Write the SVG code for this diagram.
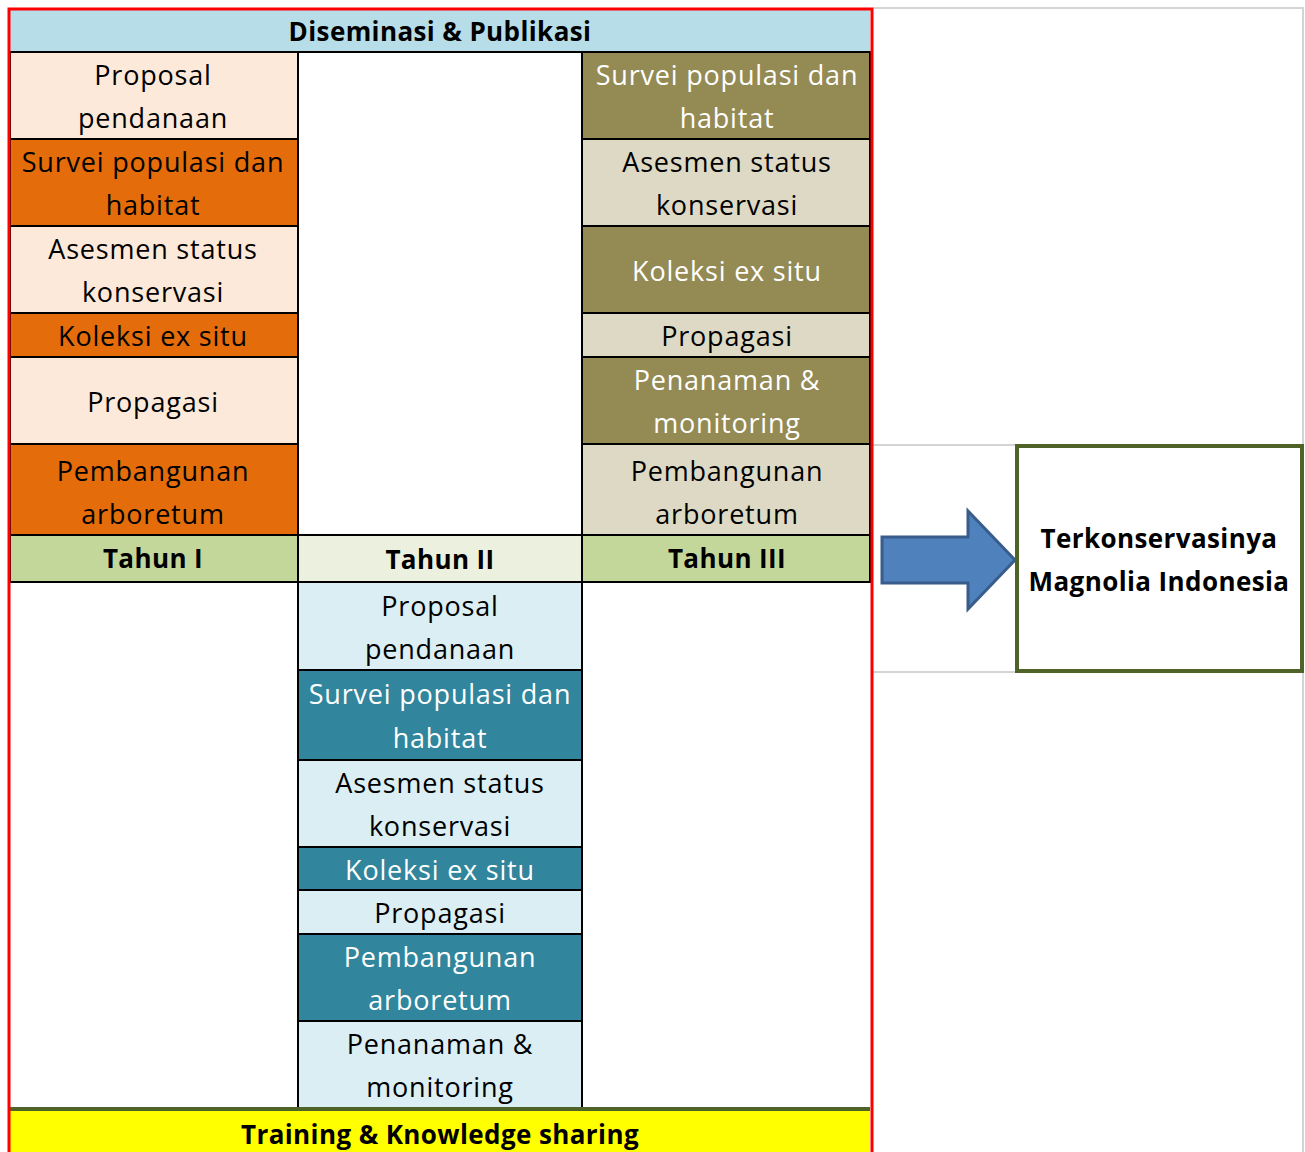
<svg xmlns="http://www.w3.org/2000/svg" width="1305" height="1152" viewBox="0 0 1305 1152">
<style>
.t{font-family:"Open Sans","Noto Sans","DejaVu Sans",sans-serif;font-size:27px;letter-spacing:0.8px;text-anchor:middle;fill:#000}
.w{fill:#fff}
.b{font-weight:bold;font-size:26px;letter-spacing:0.4px}
.c{stroke:#000;stroke-width:2}
.g{stroke:#D4D4D4;stroke-width:2;fill:none}
</style>
<rect width="1305" height="1152" fill="#fff"/>
<g id="grid">
<line class="g" x1="873" y1="8" x2="1304" y2="8"/>
<line class="g" x1="1303" y1="8" x2="1303" y2="1152"/>
<line class="g" x1="873" y1="445" x2="1016" y2="445"/>
<line class="g" x1="873" y1="672" x2="1304" y2="672"/>
</g>
<g id="header">
<rect x="10" y="10" width="860" height="42" fill="#B7DDE8"/>
<line x1="298" y1="52" x2="870" y2="52" stroke="#000" stroke-width="2"/>
<text class="t b" x="440" y="41">Diseminasi &amp; Publikasi</text>
</g>
<g id="year1">
<g id="y1-proposal"><rect class="c" x="10" y="52" width="288" height="87" fill="#FDE9D9"/><text class="t" x="153" y="85">Proposal</text><text class="t" x="153" y="128">pendanaan</text></g>
<g id="y1-survei"><rect class="c" x="10" y="139" width="288" height="87" fill="#E46C0A"/><text class="t" x="153" y="172">Survei populasi dan</text><text class="t" x="153" y="215">habitat</text></g>
<g id="y1-asesmen"><rect class="c" x="10" y="226" width="288" height="87" fill="#FDE9D9"/><text class="t" x="153" y="259">Asesmen status</text><text class="t" x="153" y="302">konservasi</text></g>
<g id="y1-koleksi"><rect class="c" x="10" y="313" width="288" height="44" fill="#E46C0A"/><text class="t" x="153" y="346">Koleksi ex situ</text></g>
<g id="y1-propagasi"><rect class="c" x="10" y="357" width="288" height="87" fill="#FDE9D9"/><text class="t" x="153" y="412">Propagasi</text></g>
<g id="y1-pembangunan"><rect class="c" x="10" y="444" width="288" height="91" fill="#E46C0A"/><text class="t" x="153" y="481">Pembangunan</text><text class="t" x="153" y="524">arboretum</text></g>
</g>
<g id="year3">
<g id="y3-survei"><rect class="c" x="582" y="52" width="288" height="87" fill="#948A54"/><text class="t w" x="727" y="85">Survei populasi dan</text><text class="t w" x="727" y="128">habitat</text></g>
<g id="y3-asesmen"><rect class="c" x="582" y="139" width="288" height="87" fill="#DDD9C4"/><text class="t" x="727" y="172">Asesmen status</text><text class="t" x="727" y="215">konservasi</text></g>
<g id="y3-koleksi"><rect class="c" x="582" y="226" width="288" height="87" fill="#948A54"/><text class="t w" x="727" y="281">Koleksi ex situ</text></g>
<g id="y3-propagasi"><rect class="c" x="582" y="313" width="288" height="44" fill="#DDD9C4"/><text class="t" x="727" y="346">Propagasi</text></g>
<g id="y3-penanaman"><rect class="c" x="582" y="357" width="288" height="87" fill="#948A54"/><text class="t w" x="727" y="390">Penanaman &amp;</text><text class="t w" x="727" y="433">monitoring</text></g>
<g id="y3-pembangunan"><rect class="c" x="582" y="444" width="288" height="91" fill="#DDD9C4"/><text class="t" x="727" y="481">Pembangunan</text><text class="t" x="727" y="524">arboretum</text></g>
</g>
<g id="years">
<g id="tahun1"><rect class="c" x="10" y="535" width="288" height="47" fill="#C4D79B"/><text class="t b" x="153" y="568">Tahun I</text></g>
<g id="tahun2"><rect class="c" x="298" y="535" width="284" height="47" fill="#EBF1DE"/><text class="t b" x="440" y="569">Tahun II</text></g>
<g id="tahun3"><rect class="c" x="582" y="535" width="288" height="47" fill="#C4D79B"/><text class="t b" x="727" y="568">Tahun III</text></g>
</g>
<g id="year2">
<g id="y2-proposal"><rect class="c" x="298" y="582" width="284" height="88" fill="#DAEEF3"/><text class="t" x="440" y="616">Proposal</text><text class="t" x="440" y="659">pendanaan</text></g>
<g id="y2-survei"><rect class="c" x="298" y="670" width="284" height="90" fill="#31859C"/><text class="t w" x="440" y="704">Survei populasi dan</text><text class="t w" x="440" y="748">habitat</text></g>
<g id="y2-asesmen"><rect class="c" x="298" y="760" width="284" height="87" fill="#DAEEF3"/><text class="t" x="440" y="793">Asesmen status</text><text class="t" x="440" y="836">konservasi</text></g>
<g id="y2-koleksi"><rect class="c" x="298" y="847" width="284" height="43" fill="#31859C"/><text class="t w" x="440" y="880">Koleksi ex situ</text></g>
<g id="y2-propagasi"><rect class="c" x="298" y="890" width="284" height="44" fill="#DAEEF3"/><text class="t" x="440" y="923">Propagasi</text></g>
<g id="y2-pembangunan"><rect class="c" x="298" y="934" width="284" height="87" fill="#31859C"/><text class="t w" x="440" y="967">Pembangunan</text><text class="t w" x="440" y="1010">arboretum</text></g>
<g id="y2-penanaman"><rect class="c" x="298" y="1021" width="284" height="88" fill="#DAEEF3"/><text class="t" x="440" y="1054">Penanaman &amp;</text><text class="t" x="440" y="1097">monitoring</text></g>
</g>
<g id="training">
<rect x="10" y="1110" width="860" height="42" fill="#FFFF00"/>
<line x1="10" y1="1109" x2="870" y2="1109" stroke="#4F6228" stroke-width="4"/>
<text class="t b" x="440" y="1144">Training &amp; Knowledge sharing</text>
</g>
<g id="frame">
<rect x="9" y="9" width="863" height="1160" fill="none" stroke="#FF0000" stroke-width="3"/>
</g>
<g id="connectors">
<polygon points="882,537 968,537 968,511 1015,560 968,609 968,583 882,583" fill="#4F81BD" stroke="#385D8A" stroke-width="3"/>
</g>
<g id="outcome">
<rect x="1017" y="446" width="285" height="225" fill="#fff" stroke="#4F6228" stroke-width="4"/>
<text class="t b" x="1159" y="548">Terkonservasinya</text>
<text class="t b" x="1159" y="591">Magnolia Indonesia</text>
</g>
</svg>
